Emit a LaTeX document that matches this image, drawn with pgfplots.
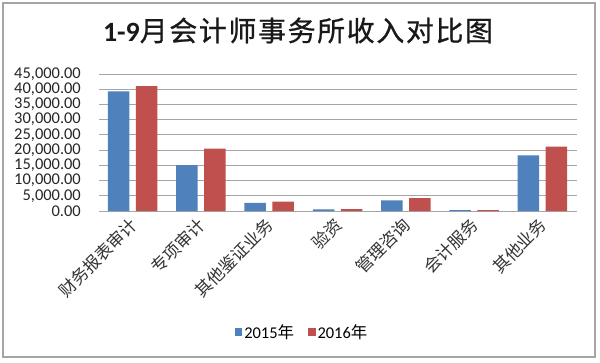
\documentclass[border=0pt]{standalone}
\usepackage{fontspec}
\setmainfont{Carlito}
\newfontfamily\cjk{Noto Sans CJK SC}
\newfontfamily\titlecjk[LetterSpace=6,FakeBold=0.8]{Noto Sans CJK SC}
\usepackage{pgfplots}
\pgfplotsset{compat=1.18}
\definecolor{b15}{HTML}{4F81BD}
\definecolor{r16}{HTML}{C0504D}
\definecolor{gridc}{HTML}{A6A6A6}
\begin{document}
\begin{tikzpicture}[x=1bp,y=1bp]
\useasboundingbox (0,0) rectangle (600,362);
\fill[white] (0,0) rectangle (600,362);
\draw[gridc, line width=1.2bp] (3,5) rectangle (595,359);
\node[font=\fontsize{28}{32}\selectfont, text=black!90] at (298,331.5) {\textbf{1-9}\titlecjk 月会计师事务所收入对比图};
\begin{axis}[
  at={(99bp,151bp)}, anchor=south west, scale only axis,
  width=478bp, height=137bp,
  xmin=-0.5, xmax=6.5, ymin=0, ymax=45000,
  ybar,
  axis line style={draw=none},
  major tick length=0pt,
  ytick={0,5000,...,45000},
  scaled y ticks=false,
  ymajorgrids, grid style={gridc, line width=1bp},
  xtick={0,...,6},
  xticklabels={财务报表审计,专项审计,其他鉴证业务,验资,管理咨询,会计服务,其他业务},
  xticklabel style={font=\cjk\fontsize{17}{20}\selectfont, xshift=-5bp, yshift=-5bp, rotate=45, anchor=north east, inner sep=0pt, text=black!80},
  yticklabel style={font=\fontsize{16.5}{18}\selectfont, inner sep=0pt, xshift=-18bp, text=black!85,
    /pgf/number format/.cd, fixed, fixed zerofill, precision=2, 1000 sep={,}},
  /pgf/number format/assume math mode=true,
  legend style={at={(0.4247,-0.883)}, anchor=center, draw=none, fill=none,
    legend columns=2, font=\fontsize{16.5}{18}\selectfont,
    /tikz/every even column/.append style={column sep=12bp}},
  legend image code/.code={\fill[#1] (0bp,-3.8bp) rectangle (7.5bp,3.8bp);},
]
\addplot[fill=b15, draw=none, bar width=21.5bp, bar shift=-14.5bp] coordinates {
  (0,39320) (1,15110) (2,2630) (3,520) (4,3500) (5,250) (6,18290)};
\addplot[fill=r16, draw=none, bar width=21.5bp, bar shift=13.5bp] coordinates {
  (0,41060) (1,20460) (2,3060) (3,600) (4,4270) (5,280) (6,21130)};
\legend{2015{\cjk 年}, 2016{\cjk 年}}
\end{axis}
\end{tikzpicture}
\end{document}
